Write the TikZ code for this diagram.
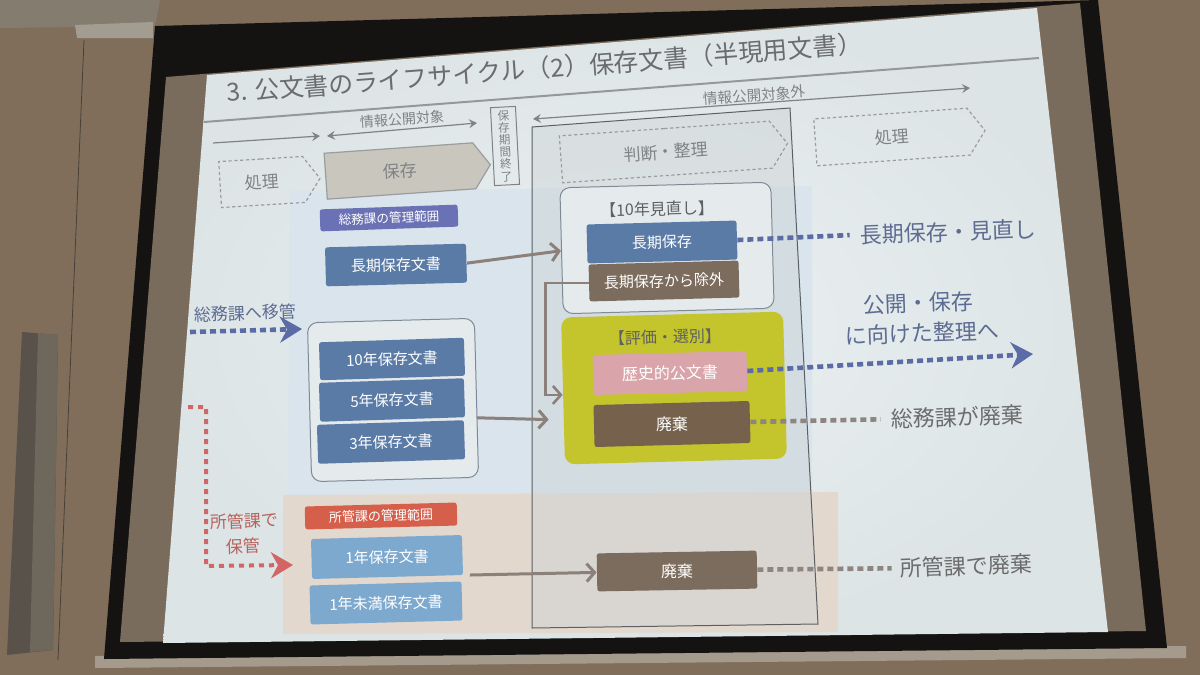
\documentclass[tikz,border=0pt]{standalone}
\usepackage{fontspec}
\setmainfont{Noto Sans CJK JP}
\usetikzlibrary{shapes.symbols,arrows.meta}
\definecolor{wall}{HTML}{806E5B}
\definecolor{ceil}{HTML}{857C70}
\definecolor{bracket}{HTML}{A39C90}
\definecolor{frameblk}{HTML}{151311}
\definecolor{unlit}{HTML}{7A6C5D}
\definecolor{shelf}{HTML}{A59B8C}
\definecolor{pillarA}{HTML}{58524A}
\definecolor{pillarB}{HTML}{6E675C}
\definecolor{slidein}{HTML}{ECF1F1}
\definecolor{slideout}{HTML}{DCE4E6}
\definecolor{slidebg}{HTML}{E5EBEC}
\definecolor{bluereg}{HTML}{D9E4EC}
\definecolor{beigereg}{HTML}{E3D8CD}
\definecolor{rectfill}{HTML}{CDD3D4}
\definecolor{rectline}{HTML}{5A6064}
\definecolor{cline}{HTML}{959899}
\definecolor{ctxt}{HTML}{808284}
\definecolor{ctitle}{HTML}{6A6C6E}
\definecolor{cdash}{HTML}{9A9C9E}
\definecolor{chozon}{HTML}{C9C7BD}
\definecolor{cpurple}{HTML}{6A71B4}
\definecolor{cdblue}{HTML}{5B7BA7}
\definecolor{clblue}{HTML}{7DA9CF}
\definecolor{cred}{HTML}{D65F4C}
\definecolor{cbrown}{HTML}{7B6C5E}
\definecolor{cdbrown}{HTML}{75614C}
\definecolor{cpink}{HTML}{D9A5AA}
\definecolor{cyellow}{HTML}{C4C42C}
\definecolor{cgrp}{HTML}{7E8A96}
\definecolor{cgarrow}{HTML}{8C807B}
\definecolor{cbdot}{HTML}{5B6BA5}
\definecolor{crdot}{HTML}{D26565}
\definecolor{cgdot}{HTML}{8E8580}
\definecolor{cbtext}{HTML}{5D6C92}
\definecolor{crtext}{HTML}{B8625C}
\definecolor{cgtext}{HTML}{6C6C6C}
\definecolor{cbracket}{HTML}{5E6062}
\begin{document}
\begin{tikzpicture}[x=0.5pt,y=-0.5pt,
  box/.style={rectangle, rounded corners=1.2pt, inner sep=0pt, text=white,
    font=\fontsize{7.5}{8}\selectfont},
  grp/.style={rectangle, rounded corners=5pt, draw=cgrp, line width=0.5pt, fill=slidebg, inner sep=0pt},
  sig/.style={signal, signal to=east, signal pointer angle=110, inner sep=0pt,
    font=\fontsize{8.5}{9}\selectfont, text=ctxt},
  dsig/.style={sig, draw=cdash, line width=0.6pt, dash pattern=on 1.6pt off 1.3pt},
  titlepart/.style={anchor=base west, rotate=4.4, inner sep=0pt, text=ctitle,
    font=\fontsize{12.4}{13}\selectfont},
  toplab/.style={inner sep=0pt, text=ctxt, rotate=4},
  toparrow/.style={draw=ctxt, line width=0.6pt, {Stealth[length=4pt,width=4.5pt,inset=1.5pt]}-{Stealth[length=4pt,width=4.5pt,inset=1.5pt]}},
  garrow/.style={draw=cgarrow, line width=1.5pt, -{Straight Barb[length=4pt,width=9pt]}},
  bdot/.style={draw=cbdot, line width=2.3pt, dash pattern=on 3pt off 2pt},
  gdot/.style={draw=cgdot, line width=2.3pt, dash pattern=on 3pt off 2pt},
  rdot/.style={draw=crdot, line width=2pt, dash pattern=on 2.5pt off 2.5pt},
  bighead/.style={-{Stealth[length=11pt,width=13pt,inset=3.5pt]}},
  rlab/.style={inner sep=0pt, font=\fontsize{11}{12}\selectfont, rotate=2},
  llab/.style={inner sep=0pt, font=\fontsize{8.5}{9}\selectfont, rotate=2},
  hlab/.style={inner sep=0pt, font=\fontsize{8}{9}\selectfont, text=cbracket, rotate=1.5}
]
\useasboundingbox (0,0) rectangle (1200,675);
% ---- room ----
\fill[wall] (0,0) rectangle (1200,675);
\fill[ceil] (0,0) -- (160,0) -- (155,26) -- (0,28) -- cycle;
\fill[bracket] (75,25) -- (153,22) -- (153,38) -- (77,38) -- cycle;
\fill[pillarA] (22,332) -- (58,335) -- (53,650) -- (7,655) -- cycle;
\fill[pillarB] (38,333) -- (58,335) -- (53,650) -- (30,652) -- cycle;
\draw[pillarA!80!black, line width=0.4pt] (84,40) -- (58,660);
\fill[shelf] (95,656) -- (1186,646) -- (1186,658) -- (95,668) -- cycle;
% ---- screen ----
\fill[frameblk] (155,26) -- (1098,0) -- (1167,648) -- (104,659) -- cycle;
\fill[unlit] (166,77) -- (1080,3) -- (1146,631) -- (120,642) -- cycle;
\shade[inner color=slidein, outer color=slideout] (207,75) -- (1037,8) -- (1108,632) -- (163,643) -- cycle;
% ---- slide backgrounds ----
\fill[bluereg] (290,191) -- (812,186) -- (812,493) -- (288,495) -- cycle;
\fill[beigereg] (283,495) -- (838,492) -- (838,632) -- (283,634) -- cycle;
\draw[draw=rectline, line width=0.5pt, fill=rectfill, fill opacity=0.45]
  (532,127) -- (790,108) -- (818,624) -- (532,628) -- cycle;
% ---- title ----
\node[titlepart] (title) at (227,102) {3. 公文書のライフサイクル};
\node[titlepart] (title2) at (title.base east) {（2）保存文書};
\node[titlepart] (title3) at (title2.base east) {（半現用文書）};
\coordinate (sep1) at (204,122);
\coordinate (sep2) at (1039,58);
\draw[cline, line width=1pt] (sep1) -- (sep2);
% ---- top arrows ----
\coordinate (t1) at (213,143);
\coordinate (t2) at (320,136);
\coordinate (t3) at (327,136);
\coordinate (t4) at (477,123);
\coordinate (t5) at (533,119);
\coordinate (t6) at (970,88);
\draw[draw=ctxt, line width=0.6pt, -{Stealth[length=4pt,width=4.5pt,inset=1.5pt]}] (t1) -- (t2);
\draw[toparrow] (t3) -- (t4);
\draw[toparrow] (t5) -- (t6);
\node[toplab, font=\fontsize{7}{8}\selectfont] (lab1) at (402,119) {情報公開対象};
\node[toplab, font=\fontsize{7.3}{8}\selectfont] (lab2) at (754,95) {情報公開対象外};
% ---- phase arrows ----
\node[dsig, minimum width=50pt, minimum height=23pt, rotate=3.5] (sh1) at (262,182) {処理};
\node[sig, draw=cdash, fill=chozon, line width=0.6pt, minimum width=82.5pt, minimum height=23pt, rotate=4] (hz) at (400,171) {保存};
\node[draw=ctxt, line width=0.5pt, minimum width=12.5pt, minimum height=39pt, align=center,
  inner sep=0.5pt, text=ctxt, font=\fontsize{5.8}{6.1}\selectfont, rotate=3] (kikan) at (505,146)
  {保\\存\\期\\間\\終\\了};
\node[dsig, minimum width=113.5pt, minimum height=23.5pt, rotate=4] (hd) at (666,152) {判断・整理};
\node[dsig, minimum width=85pt, minimum height=23.5pt, rotate=4] (sh2) at (892,137) {処理};
% ---- left column ----
\node[box, fill=cpurple, font=\fontsize{6.3}{7}\selectfont, minimum width=69pt, minimum height=11pt, rotate=2] (somu) at (389,218) {総務課の管理範囲};
\node[box, fill=cdblue, minimum width=70.5pt, minimum height=19.5pt, rotate=1.5] (lt) at (396,265) {長期保存文書};
\node[grp, minimum width=83.5pt, minimum height=79.5pt, rotate=1.5] (g3) at (393,400) {};
\node[box, fill=cdblue, minimum width=72.5pt, minimum height=19pt, rotate=1.8] (y10) at (392,359) {10年保存文書};
\node[box, fill=cdblue, minimum width=72.5pt, minimum height=19.5pt, rotate=1.8] (y5) at (392,400) {5年保存文書};
\node[box, fill=cdblue, minimum width=73.5pt, minimum height=19.5pt, rotate=1.8] (y3) at (391,442) {3年保存文書};
\node[box, fill=cred, font=\fontsize{6.5}{7}\selectfont, minimum width=76pt, minimum height=11.5pt, rotate=1.5] (shokan) at (381,516) {所管課の管理範囲};
\node[box, fill=clblue, minimum width=75.5pt, minimum height=20pt, rotate=1.5] (y1) at (387,557) {1年保存文書};
\node[box, fill=clblue, minimum width=76pt, minimum height=19.5pt, rotate=1.5] (y0) at (386,603) {1年未満保存文書};
% ---- centre column ----
\node[grp, minimum width=105.5pt, minimum height=63pt, rotate=1.5] (g10) at (667,248) {};
\node[hlab] (g10t) at (657,209) {【10年見直し】};
\node[box, fill=cdblue, minimum width=75pt, minimum height=19.5pt, rotate=1.5] (lk) at (662,242) {長期保存};
\node[box, fill=cbrown, minimum width=75pt, minimum height=18.5pt, rotate=1.5] (ex) at (664,281) {長期保存から除外};
\node[rectangle, rounded corners=5pt, fill=cyellow, minimum width=111pt, minimum height=73.5pt, rotate=1.5] (yel) at (674,388) {};
\node[hlab] (yelt) at (665,337) {【評価・選別】};
\node[box, fill=cpink, font=\fontsize{8}{9}\selectfont, minimum width=77pt, minimum height=20pt, rotate=1.5] (hist) at (670,373) {歴史的公文書};
\node[box, fill=cdbrown, font=\fontsize{8}{9}\selectfont, minimum width=78pt, minimum height=21pt, rotate=1.5] (hai1) at (672,424) {廃棄};
\node[box, fill=cbrown, font=\fontsize{8}{9}\selectfont, minimum width=80pt, minimum height=19pt, rotate=1] (hai2) at (677,571) {廃棄};
% ---- right labels ----
\node[rlab, text=cbtext] (lkl) at (948,232) {長期保存・見直し};
\node[rlab, text=cbtext] (kk1) at (918,303) {公開・保存};
\node[rlab, text=cbtext] (kk2) at (922,333) {に向けた整理へ};
\node[rlab, text=cgtext] (shl) at (957,417) {総務課が廃棄};
\node[rlab, text=cgtext] (shh) at (966,566) {所管課で廃棄};
% ---- left labels ----
\node[llab, text=cbtext] (ikan) at (245,313) {総務課へ移管};
\node[llab, text=crtext] (hk1) at (244,521) {所管課で};
\node[llab, text=crtext] (hk2) at (243,546) {保管};
% ---- connectors ----
\draw[garrow] (lt.east) -- (g10.west);
\draw[garrow, shorten >=7pt] ([yshift=-10pt]g3.east) -- ([yshift=-14.5pt]yel.west);
\draw[draw=cgarrow, line width=1.3pt, -{Straight Barb[length=4pt,width=9pt]}] (ex.west) -- ++(-43,0) |- ([yshift=-2pt]yel.west);
\draw[garrow] ([xshift=3.5pt,yshift=-10pt]y1.east) -- (hai2.west);
\draw[bdot] (lk.east) -- ([xshift=-5pt]lkl.west);
\coordinate (tipH) at (1033,354);
\draw[bdot, bighead] (hist.east) -- (tipH);
\draw[gdot] (hai1.east) -- ([xshift=-5pt]shl.west);
\draw[gdot] (hai2.east) -- ([xshift=-4pt]shh.west);
\coordinate (ms) at (190,332);
\coordinate (mt) at (302,329);
\draw[bdot, bighead] (ms) -- (mt);
\coordinate (rs) at (188,407);
\coordinate (rc1) at (206,407);
\coordinate (rc2) at (206,566);
\coordinate (rt) at (293,565);
\draw[rdot, bighead] (rs) -- (rc1) -- (rc2) -- (rt);
\end{tikzpicture}
\end{document}
